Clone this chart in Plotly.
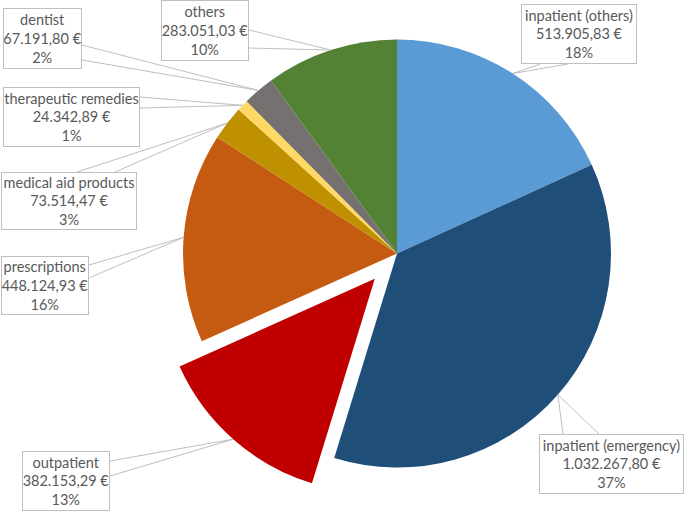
import math
import plotly.graph_objects as go

# ---- data ----
categories = ["inpatient (others)", "inpatient (emergency)", "outpatient", "prescriptions",
              "medical aid products", "therapeutic remedies", "dentist", "others"]
values = [513905.83, 1032267.80, 382153.29, 448124.93, 73514.47, 24342.89, 67191.80, 283051.03]
value_labels = ["513.905,83 €", "1.032.267,80 €", "382.153,29 €", "448.124,93 €",
                "73.514,47 €", "24.342,89 €", "67.191,80 €", "283.051,03 €"]
pct_labels = ["18%", "37%", "13%", "16%", "3%", "1%", "2%", "10%"]
colors = ["#5B9BD5", "#1F4E79", "#C00000", "#C55A11", "#BF9000", "#FFD966", "#767171", "#548235"]
pulls = [0, 0, 0.157, 0, 0, 0, 0, 0]

# ---- layout geometry (pixels) ----
W, H = 685, 512
cx, cy, R = 397, 253.5, 214
maxpull = max(pulls)
half = R * (1 + maxpull)

def px(x):
    return x / W

def py(y):
    return 1 - y / H

# label boxes: (x0, y0, x1, y1) in pixels
boxes = [(521, 4, 637, 64), (539, 434, 684, 494), (22, 451, 110, 511), (1, 256, 89, 315),
         (1, 172, 137, 230), (3, 87, 140, 147), (3, 8, 82, 69), (161, 0, 249, 61)]
# leader attachment points on the box edges
bases = [((540, 64), (568, 64)), ((563, 434), (599, 434)), ((110, 461), (110, 476)),
         ((89, 265), (89, 278)), ((77, 172), (115, 172)), ((140, 97), (140, 108)),
         ((82, 45), (82, 60)), ((249, 30), (249, 48))]

fig = go.Figure(go.Pie(
    labels=categories, values=values, sort=False, direction="clockwise", rotation=0,
    marker=dict(colors=colors, line=dict(width=0)), pull=pulls,
    textinfo="none", hoverinfo="label+value+percent", showlegend=False,
    domain=dict(x=[px(cx - half), px(cx + half)], y=[py(cy + half), py(cy - half)]),
))

total = sum(values)
cum = 0
shapes = []
annotations = []
for i, v in enumerate(values):
    mid = (cum + v / 2) / total * 2 * math.pi
    cum += v
    ox = cx + R * pulls[i] * math.sin(mid)
    oy = cy - R * pulls[i] * math.cos(mid)
    tx = ox + R * math.sin(mid)
    ty = oy - R * math.cos(mid)
    (ax, ay), (bx, by) = bases[i]
    shapes.append(dict(type="path", xref="paper", yref="paper",
                       path=f"M {px(ax)} {py(ay)} L {px(tx)} {py(ty)} L {px(bx)} {py(by)}",
                       line=dict(color="#BFBFBF", width=1)))
    x0, y0, x1, y1 = boxes[i]
    annotations.append(dict(
        xref="paper", yref="paper", x=px((x0 + x1) / 2), y=py((y0 + y1) / 2),
        xanchor="center", yanchor="middle", showarrow=False,
        text=f"{categories[i]}<br>{value_labels[i]}<br>{pct_labels[i]}",
        font=dict(family="Lato", size=14.5, color="#595959"),
        width=x1 - x0 - 2, height=y1 - y0 - 2, align="center", valign="middle",
        bgcolor="white", bordercolor="#BFBFBF", borderwidth=1, borderpad=0,
    ))

fig.update_layout(
    width=W, height=H, margin=dict(l=0, r=0, t=0, b=0),
    paper_bgcolor="white", plot_bgcolor="white",
    shapes=shapes, annotations=annotations,
)
fig.write_html("out.html", config={"displayModeBar": False},
               post_script="document.body.style.margin='0';")
